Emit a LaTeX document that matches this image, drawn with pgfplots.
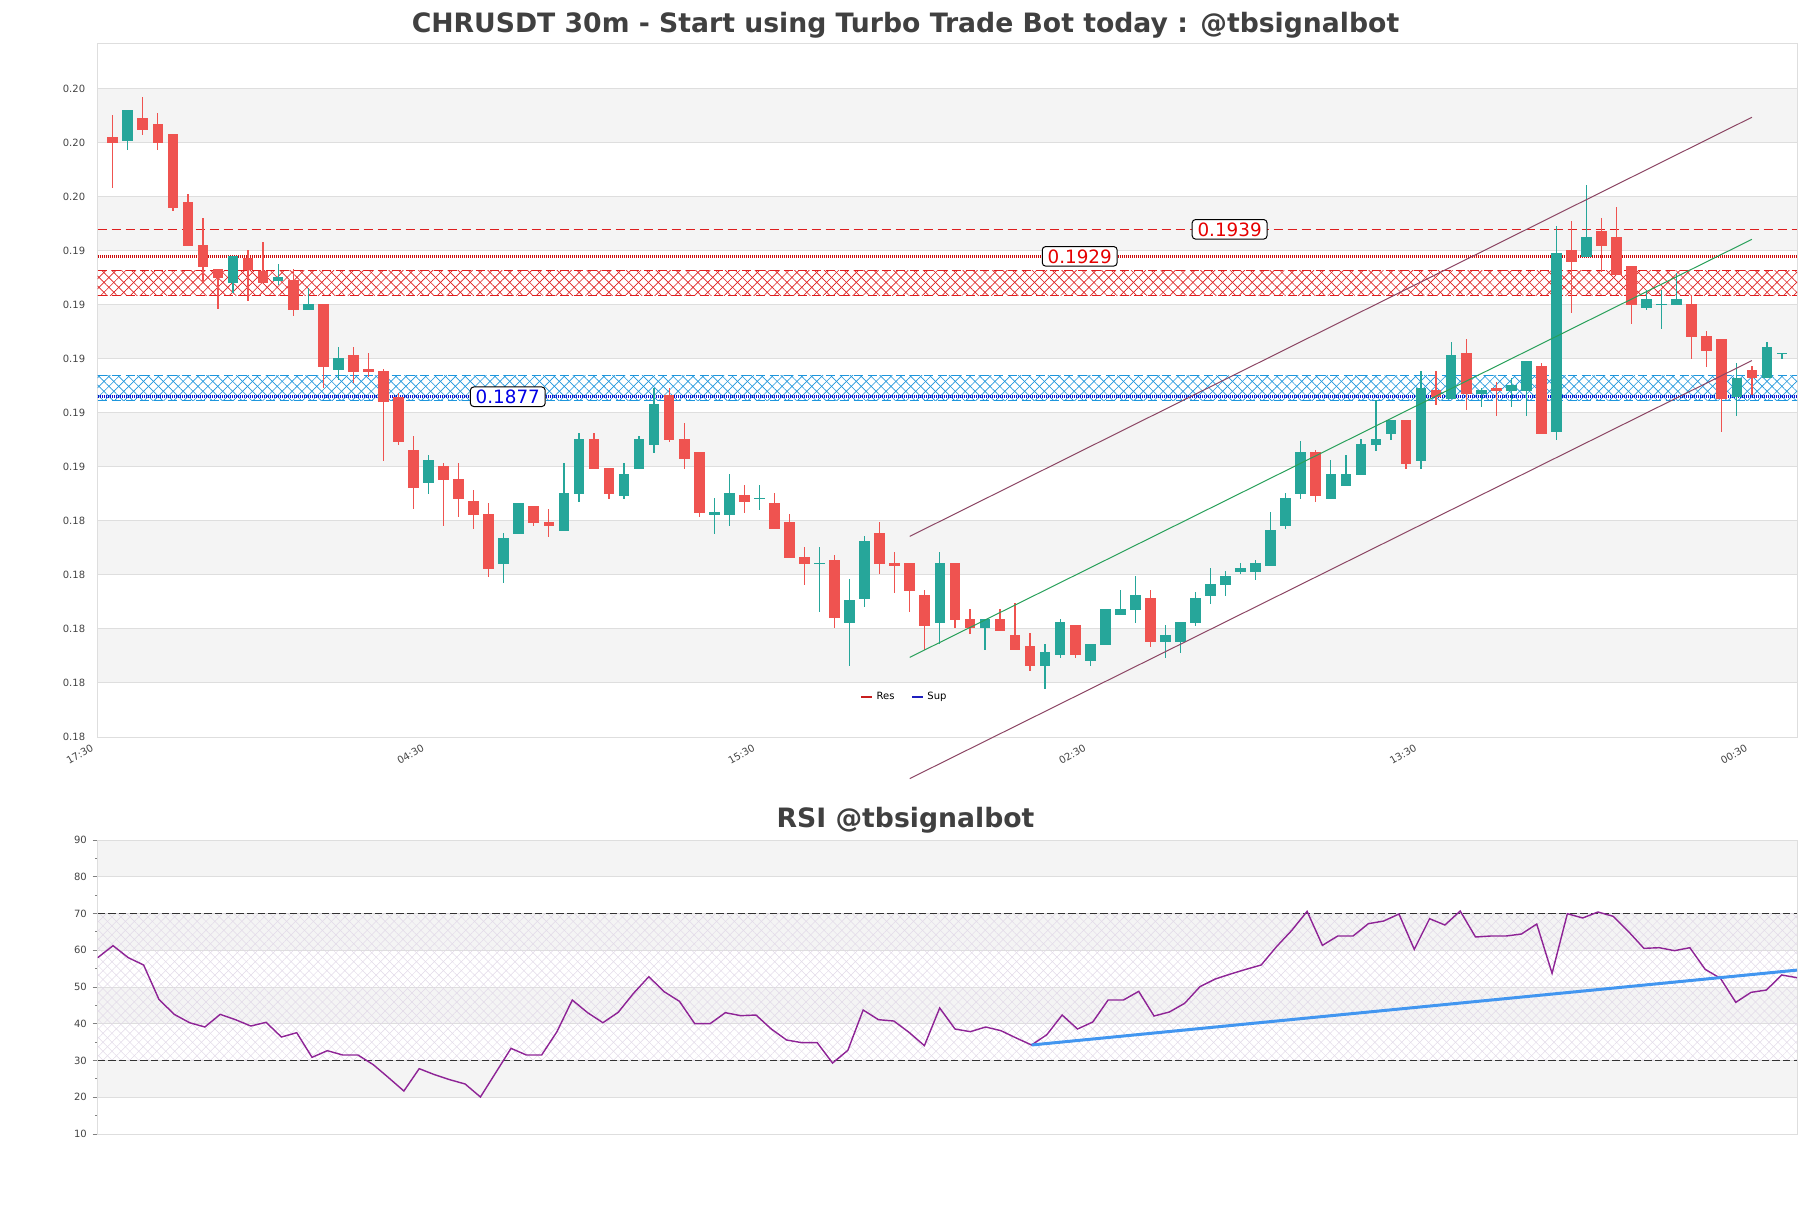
\documentclass[border=0pt]{standalone}
\usepackage{fontspec}
\setmainfont{DejaVu Sans}
\usepackage{pgfplots}
\pgfplotsset{compat=1.18}
\usepackage{pgfplotstable}
\usetikzlibrary{patterns.meta}

\definecolor{cred}{RGB}{239,83,80}
\definecolor{cgrn}{RGB}{38,166,154}
\definecolor{band}{RGB}{244,244,244}
\definecolor{gridc}{RGB}{222,222,222}
\definecolor{txt}{RGB}{68,68,68}
\definecolor{ttl}{RGB}{64,64,64}
\definecolor{resc}{RGB}{222,30,30}
\definecolor{resd}{RGB}{205,10,10}
\definecolor{supc}{RGB}{30,150,220}
\definecolor{supd}{RGB}{15,15,205}
\definecolor{chan}{RGB}{140,70,100}
\definecolor{midc}{RGB}{40,160,90}
\definecolor{rsic}{RGB}{142,36,150}
\definecolor{trend}{RGB}{66,150,240}
\definecolor{hatchv}{RGB}{226,218,232}
\definecolor{legr}{RGB}{200,30,30}
\definecolor{legb}{RGB}{30,30,190}
\definecolor{obos}{RGB}{50,50,50}
\definecolor{lblr}{RGB}{230,0,0}
\definecolor{lblb}{RGB}{0,0,230}

% 30m candles, x = candle number (17:30 sits at -1)
\pgfplotstableread{
k o h l c
0 0.19732 0.19814 0.19542 0.19711
1 0.19719 0.19832 0.19682 0.19832
2 0.19803 0.19880 0.19741 0.19759
3 0.19780 0.19820 0.19682 0.19711
4 0.19743 0.19743 0.19459 0.19470
5 0.19492 0.19520 0.19330 0.19330
6 0.19332 0.19432 0.19196 0.19252
7 0.19243 0.19243 0.19094 0.19211
8 0.19193 0.19292 0.19156 0.19292
9 0.19284 0.19314 0.19124 0.19240
10 0.19235 0.19343 0.19193 0.19193
11 0.19200 0.19262 0.19184 0.19214
12 0.19203 0.19242 0.19070 0.19094
13 0.19093 0.19172 0.19093 0.19114
14 0.19114 0.19114 0.18801 0.18882
15 0.18870 0.18953 0.18832 0.18914
16 0.18925 0.18953 0.18822 0.18863
17 0.18873 0.18931 0.18844 0.18863
18 0.18866 0.18872 0.18533 0.18752
19 0.18767 0.18783 0.18592 0.18604
20 0.18573 0.18625 0.18353 0.18433
21 0.18452 0.18554 0.18410 0.18536
22 0.18514 0.18525 0.18292 0.18462
23 0.18466 0.18525 0.18323 0.18393
24 0.18384 0.18425 0.18280 0.18333
25 0.18336 0.18376 0.18104 0.18132
26 0.18152 0.18264 0.18082 0.18247
27 0.18263 0.18377 0.18263 0.18377
28 0.18366 0.18366 0.18293 0.18303
29 0.18306 0.18353 0.18252 0.18292
30 0.18274 0.18524 0.18274 0.18413
31 0.18411 0.18635 0.18382 0.18614
32 0.18614 0.18635 0.18504 0.18504
33 0.18506 0.18506 0.18393 0.18411
34 0.18403 0.18524 0.18393 0.18484
35 0.18504 0.18625 0.18504 0.18614
36 0.18593 0.18801 0.18563 0.18743
37 0.18774 0.18801 0.18604 0.18610
38 0.18614 0.18674 0.18504 0.18541
39 0.18566 0.18566 0.18324 0.18341
40 0.18333 0.18395 0.18263 0.18342
41 0.18333 0.18483 0.18293 0.18413
42 0.18405 0.18443 0.18341 0.18382
43 0.18393 0.18443 0.18351 0.18395
44 0.18377 0.18415 0.18282 0.18282
45 0.18306 0.18336 0.18174 0.18174
46 0.18177 0.18214 0.18074 0.18152
47 0.18152 0.18214 0.17974 0.18154
48 0.18166 0.18184 0.17915 0.17952
49 0.17933 0.18095 0.17774 0.18017
50 0.18022 0.18254 0.17993 0.18236
51 0.18266 0.18307 0.18115 0.18152
52 0.18154 0.18195 0.18044 0.18144
53 0.18154 0.18154 0.17974 0.18052
54 0.18036 0.18054 0.17833 0.17922
55 0.17933 0.18195 0.17853 0.18154
56 0.18154 0.18154 0.17915 0.17943
57 0.17947 0.17984 0.17893 0.17915
58 0.17915 0.17947 0.17833 0.17947
59 0.17947 0.17984 0.17904 0.17904
60 0.17888 0.18006 0.17833 0.17833
61 0.17847 0.17896 0.17756 0.17774
62 0.17774 0.17854 0.17687 0.17825
63 0.17815 0.17947 0.17804 0.17936
64 0.17925 0.17925 0.17804 0.17815
65 0.17793 0.17854 0.17774 0.17854
66 0.17851 0.17984 0.17851 0.17984
67 0.17963 0.18054 0.17963 0.17984
68 0.17982 0.18106 0.17933 0.18036
69 0.18025 0.18054 0.17844 0.17863
70 0.17863 0.17925 0.17804 0.17888
71 0.17863 0.17936 0.17822 0.17936
72 0.17933 0.18047 0.17922 0.18025
73 0.18033 0.18136 0.18004 0.18077
74 0.18074 0.18125 0.18033 0.18106
75 0.18122 0.18154 0.18115 0.18136
76 0.18122 0.18166 0.18093 0.18154
77 0.18144 0.18343 0.18144 0.18277
78 0.18293 0.18414 0.18282 0.18395
79 0.18411 0.18606 0.18393 0.18566
80 0.18566 0.18573 0.18382 0.18404
81 0.18393 0.18536 0.18393 0.18484
82 0.18441 0.18554 0.18441 0.18484
83 0.18482 0.18614 0.18482 0.18595
84 0.18593 0.18758 0.18570 0.18614
85 0.18633 0.18684 0.18611 0.18684
86 0.18684 0.18684 0.18504 0.18522
87 0.18533 0.18866 0.18504 0.18803
88 0.18795 0.18866 0.18741 0.18770
89 0.18764 0.18973 0.18764 0.18925
90 0.18932 0.18984 0.18722 0.18783
91 0.18783 0.18803 0.18733 0.18795
92 0.18803 0.18825 0.18700 0.18793
93 0.18793 0.18840 0.18733 0.18814
94 0.18793 0.18903 0.18700 0.18903
95 0.18884 0.18895 0.18633 0.18633
96 0.18641 0.19403 0.18611 0.19303
97 0.19314 0.19421 0.19082 0.19270
98 0.19289 0.19556 0.19289 0.19362
99 0.19384 0.19432 0.19233 0.19330
100 0.19362 0.19473 0.19222 0.19222
101 0.19254 0.19254 0.19041 0.19111
102 0.19100 0.19166 0.19093 0.19132
103 0.19111 0.19166 0.19022 0.19114
104 0.19111 0.19230 0.19111 0.19132
105 0.19114 0.19143 0.18911 0.18993
106 0.18995 0.19014 0.18882 0.18941
107 0.18984 0.18984 0.18641 0.18763
108 0.18770 0.18896 0.18700 0.18837
109 0.18867 0.18884 0.18778 0.18841
110 0.18841 0.18973 0.18841 0.18954
111 0.18931 0.18932 0.18911 0.18932
}\candles

\pgfplotstableread{
i v
0 57.98
1 61.25
2 57.98
3 55.99
4 46.64
5 42.56
6 40.29
7 39.12
8 42.56
9 41.11
10 39.39
11 40.39
12 36.39
13 37.57
14 30.86
15 32.68
16 31.50
17 31.50
18 28.87
19 25.33
20 21.70
21 27.78
22 26.15
23 24.78
24 23.61
25 20.07
26 26.69
27 33.31
28 31.50
29 31.50
30 37.85
31 46.46
32 43.02
33 40.29
34 43.11
35 48.28
36 52.81
37 48.73
38 46.10
39 40.02
40 40.02
41 43.02
42 42.20
43 42.38
44 38.57
45 35.58
46 34.85
47 34.85
48 29.32
49 32.77
50 43.74
51 41.11
52 40.75
53 37.66
54 34.04
55 44.30
56 38.57
57 37.85
58 39.12
59 38.12
60 36.12
61 34.22
62 37.03
63 42.38
64 38.57
65 40.48
66 46.46
67 46.46
68 48.82
69 42.11
70 43.20
71 45.56
72 50.09
73 52.18
74 53.54
75 54.81
76 55.99
77 60.98
78 65.42
79 70.59
80 61.34
81 63.88
82 63.88
83 67.23
84 67.96
85 69.86
86 60.25
87 68.59
88 66.87
89 70.68
90 63.61
91 63.88
92 63.88
93 64.42
94 67.14
95 53.72
96 69.95
97 68.78
98 70.41
99 69.23
100 65.06
101 60.52
102 60.70
103 59.89
104 60.70
105 54.81
106 52.36
107 45.83
108 48.55
109 49.18
110 53.27
111 52.54
}\rsi

\pgfplotsset{
  tickfont/.style={font=\fontsize{6}{7}\selectfont, text=txt},
  bandfill/.style={fill=band, draw=none, on layer=axis background, forget plot},
  candle/.style n args={3}{forget plot, draw=none, mark=none,
    restrict expr to domain={\thisrow{c}-\thisrow{o}}{#1},
    error bars/.cd, y dir=both, y explicit, error mark=none,
    error bar style={draw=#2, solid, line width=#3}},
}

\begin{document}
\begin{tikzpicture}
\node[anchor=base, font=\bfseries\fontsize{16}{19}\selectfont, text=ttl]
  at (543.3pt,-19.8pt) {CHRUSDT 30m - Start using Turbo Trade Bot today : @tbsignalbot};
\node[anchor=base, font=\bfseries\fontsize{16}{19}\selectfont, text=ttl]
  at (543.3pt,-496.2pt) {RSI @tbsignalbot};

% ---------------- price panel
\begin{axis}[
  at={(58.62pt,-442.2pt)}, anchor=south west,
  width=1019.58pt, height=416.4pt, scale only axis,
  set layers, clip=false,
  xmin=-1, xmax=112, ymin=0.1751, ymax=0.2008,
  axis line style={draw=gridc},
  major tick length=0pt,
  ymajorgrids, grid style={draw=gridc, line width=0.6pt},
  ytick={0.1751,0.1771,0.1791,0.1811,0.1831,0.1851,0.1871,0.1891,0.1911,0.1931,0.1951,0.1971,0.1991},
  yticklabels={0.18,0.18,0.18,0.18,0.18,0.19,0.19,0.19,0.19,0.19,0.20,0.20,0.20},
  xtick={-1,21,43,65,87,109},
  xticklabels={17:30,04:30,15:30,02:30,13:30,00:30},
  /pgf/number format/assume math mode=true,
  yticklabel style={tickfont, xshift=-4pt},
  xticklabel style={tickfont, rotate=30, anchor=north east, inner sep=1pt, xshift=-4.6pt, yshift=0pt},
  legend style={at={(0.4751,0.0572)}, anchor=center, draw=none, fill=none,
    font=\fontsize{6}{7}\selectfont, inner sep=0pt,
    /tikz/every even column/.append style={column sep=8pt}},
  legend columns=2,
  legend image code/.code={\draw[#1] (0pt,0pt) -- (6.6pt,0pt);},
]
\addplot[bandfill] coordinates {(-1,0.1771) (112,0.1771) (112,0.1791) (-1,0.1791)} -- cycle;
\addplot[bandfill] coordinates {(-1,0.1811) (112,0.1811) (112,0.1831) (-1,0.1831)} -- cycle;
\addplot[bandfill] coordinates {(-1,0.1851) (112,0.1851) (112,0.1871) (-1,0.1871)} -- cycle;
\addplot[bandfill] coordinates {(-1,0.1891) (112,0.1891) (112,0.1911) (-1,0.1911)} -- cycle;
\addplot[bandfill] coordinates {(-1,0.1931) (112,0.1931) (112,0.1951) (-1,0.1951)} -- cycle;
\addplot[bandfill] coordinates {(-1,0.1971) (112,0.1971) (112,0.1991) (-1,0.1991)} -- cycle;

% resistance zone
\addplot[forget plot, draw=none, pattern={Lines[angle=45,distance=4.2pt,line width=0.4pt]}, pattern color=resc]
  coordinates {(-1,0.19146) (112,0.19146) (112,0.19238) (-1,0.19238)} -- cycle;
\addplot[forget plot, draw=none, pattern={Lines[angle=-45,distance=4.2pt,line width=0.4pt]}, pattern color=resc]
  coordinates {(-1,0.19146) (112,0.19146) (112,0.19238) (-1,0.19238)} -- cycle;
\addplot[forget plot, resc, line width=0.8pt, dash pattern=on 5.6pt off 2.8pt] coordinates {(-1,0.19238) (112,0.19238)};
\addplot[forget plot, resc, line width=0.8pt, dash pattern=on 5.6pt off 2.8pt] coordinates {(-1,0.19146) (112,0.19146)};
\addplot[forget plot, resc, line width=0.8pt, dash pattern=on 5.6pt off 2.8pt] coordinates {(-1,0.1939) (112,0.1939)};
\addplot[forget plot, resd, line width=1.6pt, dash pattern=on 0.6pt off 0.6pt] coordinates {(-1,0.1929) (112,0.1929)};

% support zone
\addplot[forget plot, draw=none, pattern={Lines[angle=45,distance=4.2pt,line width=0.4pt]}, pattern color=supc]
  coordinates {(-1,0.18755) (112,0.18755) (112,0.18849) (-1,0.18849)} -- cycle;
\addplot[forget plot, draw=none, pattern={Lines[angle=-45,distance=4.2pt,line width=0.4pt]}, pattern color=supc]
  coordinates {(-1,0.18755) (112,0.18755) (112,0.18849) (-1,0.18849)} -- cycle;
\addplot[forget plot, supc, line width=0.8pt, dash pattern=on 5.6pt off 2.8pt] coordinates {(-1,0.18849) (112,0.18849)};
\addplot[forget plot, supc, line width=0.8pt, dash pattern=on 5.6pt off 2.8pt] coordinates {(-1,0.18755) (112,0.18755)};
\addplot[forget plot, supd, line width=1.6pt, dash pattern=on 0.6pt off 0.6pt] coordinates {(-1,0.1877) (112,0.1877)};

% candles: wicks and bodies drawn as error bars
\addplot[candle={0:1}{cgrn}{0.75pt}]
  table[x=k, y expr={(\thisrow{h}+\thisrow{l})/2}, y error expr={(\thisrow{h}-\thisrow{l})/2}] {\candles};
\addplot[candle={-1:0}{cred}{0.75pt}]
  table[x=k, y expr={(\thisrow{h}+\thisrow{l})/2}, y error expr={(\thisrow{h}-\thisrow{l})/2}] {\candles};
\addplot[candle={0:1}{cgrn}{6.4pt}]
  table[x=k, y expr={(\thisrow{o}+\thisrow{c})/2}, y error expr={abs(\thisrow{c}-\thisrow{o})/2+0.00001}] {\candles};
\addplot[candle={-1:0}{cred}{6.4pt}]
  table[x=k, y expr={(\thisrow{o}+\thisrow{c})/2}, y error expr={abs(\thisrow{c}-\thisrow{o})/2+0.00001}] {\candles};

% trend channel
\addplot[forget plot, chan, line width=0.6pt] coordinates {(53,0.18253) (109,0.19805)};
\addplot[forget plot, midc, line width=0.6pt] coordinates {(53,0.17805) (109,0.19353)};
\addplot[forget plot, chan, line width=0.6pt] coordinates {(53,0.17356) (109,0.18904)};

\node[draw=black, fill=white, rounded corners=2pt, line width=0.6pt, inner xsep=3.2pt, inner ysep=1.7pt,
  font=\fontsize{11}{13}\selectfont, text=lblr] at (axis cs:74.27,0.1939) {0.1939};
\node[draw=black, fill=white, rounded corners=2pt, line width=0.6pt, inner xsep=3.2pt, inner ysep=1.7pt,
  font=\fontsize{11}{13}\selectfont, text=lblr] at (axis cs:64.3,0.1929) {0.1929};
\node[draw=black, fill=white, rounded corners=2pt, line width=0.6pt, inner xsep=3.2pt, inner ysep=1.7pt,
  font=\fontsize{11}{13}\selectfont, text=lblb] at (axis cs:26.27,0.1877) {0.1877};

\addlegendimage{legr, line width=1.2pt}
\addlegendentry{Res}
\addlegendimage{legb, line width=1.2pt}
\addlegendentry{Sup}
\end{axis}

% ---------------- RSI panel
\begin{axis}[
  at={(58.62pt,-680.4pt)}, anchor=south west,
  width=1019.58pt, height=176.4pt, scale only axis,
  set layers,
  xmin=0, xmax=111, ymin=10, ymax=90,
  axis line style={draw=gridc},
  xtick=\empty,
  ytick={10,20,...,90}, minor ytick={15,25,...,85},
  ytick pos=left, tick align=outside,
  major tick length=3pt, minor tick length=1.4pt,
  tick style={draw=gray, line width=0.5pt},
  ymajorgrids, grid style={draw=gridc, line width=0.6pt},
  /pgf/number format/assume math mode=true,
  yticklabel style={tickfont},
]
\addplot[bandfill] coordinates {(0,20) (111,20) (111,30) (0,30)} -- cycle;
\addplot[bandfill] coordinates {(0,40) (111,40) (111,50) (0,50)} -- cycle;
\addplot[bandfill] coordinates {(0,60) (111,60) (111,70) (0,70)} -- cycle;
\addplot[bandfill] coordinates {(0,80) (111,80) (111,90) (0,90)} -- cycle;

\addplot[draw=none, pattern={Lines[angle=45,distance=3.8pt,line width=0.3pt]}, pattern color=hatchv]
  coordinates {(0,30) (111,30) (111,70) (0,70)} -- cycle;
\addplot[draw=none, pattern={Lines[angle=-45,distance=3.8pt,line width=0.3pt]}, pattern color=hatchv]
  coordinates {(0,30) (111,30) (111,70) (0,70)} -- cycle;
\addplot[obos, line width=0.8pt, dash pattern=on 4.4pt off 2pt] coordinates {(0,70) (111,70)};
\addplot[obos, line width=0.8pt, dash pattern=on 4.4pt off 2pt] coordinates {(0,30) (111,30)};

\addplot[rsic, line width=0.85pt, mark=none] table[x=i, y=v] {\rsi};
\addplot[trend, line width=1.8pt] coordinates {(61,34.22) (111,54.6)};
\end{axis}

\pgfresetboundingbox
\path[use as bounding box] (0,0) rectangle (1086.6pt,-724.8pt);
\end{tikzpicture}
\end{document}
